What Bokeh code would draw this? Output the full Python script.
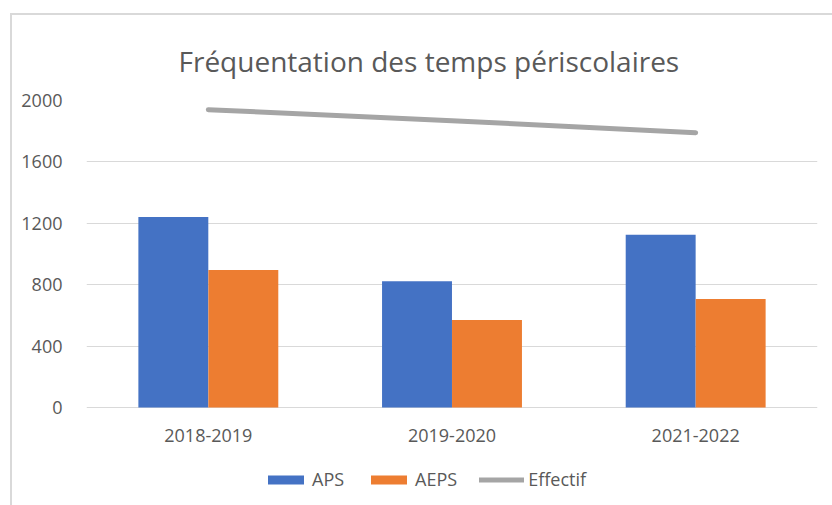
from bokeh.plotting import figure
from bokeh.models import ColumnDataSource, FactorRange, Legend, LegendItem, FixedTicker, Range1d
from bokeh.transform import dodge
from bokeh.embed import file_html
from bokeh.resources import INLINE

categories = ["2018-2019", "2019-2020", "2021-2022"]
aps = [1241, 823, 1125]
aeps = [895, 570, 707]
effectif = [1940, 1868, 1790]
y_ticks = [0, 400, 800, 1200, 1600, 2000]

TEXT = "#595959"
FONT = "Open Sans"

src = ColumnDataSource(dict(cat=categories, aps=aps, aeps=aeps, eff=effectif))

# y range extends below 0 to leave room for the legend inside the frame
p = figure(x_range=FactorRange(*categories, range_padding=0), y_range=Range1d(-606, 2000),
           frame_width=731, frame_height=400, output_backend="svg", toolbar_location=None,
           min_border_left=74, min_border_right=15, min_border_top=85, min_border_bottom=12)
p.margin = (13, 0, 0, 10)
p.styles = {"border-left": "2px solid #D9D9D9", "border-top": "2px solid #D9D9D9"}

p.title.text = "Fréquentation des temps périscolaires"
p.title.align = "left"
p.title.text_font = FONT
p.title.text_font_size = "28px"
p.title.text_font_style = "normal"
p.title.text_color = TEXT
p.title.offset = 92
p.title.standoff = 41

r1 = p.vbar(x=dodge("cat", -0.1436, range=p.x_range), top="aps", width=0.287, source=src,
            fill_color="#4472C4", line_color=None)
r2 = p.vbar(x=dodge("cat", 0.1436, range=p.x_range), top="aeps", width=0.287, source=src,
            fill_color="#ED7D31", line_color=None)
r3 = p.line(x="cat", y="eff", source=src, line_color="#A5A5A5", line_width=5, line_cap="round")

p.outline_line_color = None
p.xgrid.grid_line_color = None
p.ygrid.grid_line_color = "#D9D9D9"
p.ygrid.grid_line_width = 1
p.yaxis.ticker = FixedTicker(ticks=y_ticks)
for ax in (p.xaxis, p.yaxis):
    ax.axis_line_color = None
    ax.major_tick_line_color = None
    ax.minor_tick_line_color = None
    ax.major_label_text_font = FONT
    ax.major_label_text_font_size = "18px"
    ax.major_label_text_color = TEXT
p.yaxis.major_label_standoff = 18
p.xaxis.major_label_standoff = 16
p.xaxis.fixed_location = 0

legend = Legend(items=[LegendItem(label="APS", renderers=[r1]),
                       LegendItem(label="AEPS", renderers=[r2]),
                       LegendItem(label="Effectif", renderers=[r3])],
                orientation="horizontal", location=(177, 9),
                glyph_width=45, glyph_height=11, label_standoff=4, spacing=22,
                label_text_font=FONT, label_text_font_size="18px", label_text_color=TEXT,
                border_line_color=None, background_fill_alpha=0, padding=4, margin=0)
p.add_layout(legend, "center")

open("out.html", "w").write(file_html(p, INLINE))
